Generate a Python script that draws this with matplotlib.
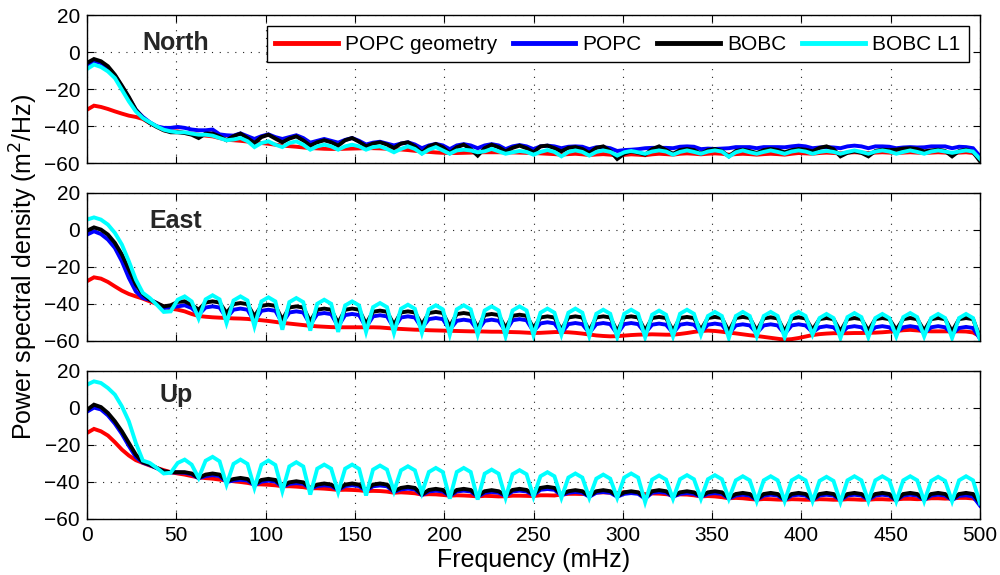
import numpy as np
import matplotlib
matplotlib.use("Agg")
import matplotlib.pyplot as plt

# frequency grid (mHz), 129 samples from 0 to 500
freq = np.linspace(0, 500, 129)

# PSD values (dB, m^2/Hz), 4 samples per row
north_popc_geom = [
    -31.2, -29.0, -29.7, -30.8, -32.1, -33.3, -34.4, -35.1,
    -36.2, -38.4, -40.2, -42.3, -42.9, -42.9, -43.8, -44.1,
    -44.7, -45.2, -45.6, -46.5, -47.4, -47.7, -48.0, -48.4,
    -48.8, -49.2, -49.6, -50.1, -50.6, -50.9, -51.2, -51.6,
    -51.9, -52.1, -52.3, -52.4, -52.4, -52.3, -52.2, -52.1,
    -51.9, -52.0, -52.1, -52.3, -52.4, -52.7, -53.0, -53.4,
    -53.7, -54.0, -54.3, -54.5, -54.6, -54.6, -54.5, -54.4,
    -54.2, -54.2, -54.2, -54.2, -54.2, -54.3, -54.4, -54.5,
    -54.6, -54.8, -55.0, -55.2, -55.5, -55.2, -55.0, -55.3,
    -55.7, -55.4, -55.2, -55.5, -56.0, -55.6, -55.3, -55.5,
    -55.8, -55.3, -55.0, -55.2, -55.5, -55.0, -54.8, -55.0,
    -55.3, -55.0, -54.8, -55.0, -55.5, -55.2, -55.0, -55.2,
    -55.5, -55.2, -55.0, -55.2, -55.5, -55.0, -54.6, -54.8,
    -55.0, -54.6, -54.4, -54.6, -54.8, -54.4, -54.2, -54.4,
    -54.6, -54.4, -54.2, -54.4, -54.6, -54.4, -54.2, -54.4,
    -54.6, -54.4, -54.2, -54.4, -54.6, -54.4, -54.2, -54.6,
    -57.8]
north_popc = [
    -6.8, -5.0, -5.9, -8.6, -12.8, -18.6, -24.9, -31.2,
    -35.1, -38.0, -40.2, -41.0, -41.0, -40.5, -41.0, -41.9,
    -42.3, -42.3, -41.9, -44.5, -45.0, -45.2, -44.0, -45.5,
    -47.0, -45.5, -44.5, -46.0, -47.0, -46.0, -45.0, -46.5,
    -49.0, -48.0, -47.0, -48.0, -49.0, -47.5, -46.5, -48.0,
    -50.0, -49.0, -48.5, -49.5, -50.5, -49.5, -48.8, -50.0,
    -52.0, -50.5, -49.7, -50.5, -52.5, -50.5, -49.8, -50.5,
    -52.0, -50.5, -49.8, -50.5, -52.5, -51.0, -50.3, -51.0,
    -52.5, -51.0, -50.6, -51.0, -52.0, -51.2, -51.0, -51.2,
    -52.5, -51.5, -51.4, -52.0, -53.5, -53.0, -52.8, -52.5,
    -52.0, -51.8, -51.8, -51.8, -52.0, -51.2, -51.0, -51.2,
    -52.5, -52.2, -52.4, -52.2, -52.0, -51.4, -51.4, -51.4,
    -52.0, -51.4, -51.4, -51.4, -51.5, -51.0, -50.6, -51.0,
    -52.0, -51.6, -51.4, -51.6, -52.0, -51.0, -50.6, -51.0,
    -52.0, -51.0, -51.0, -51.2, -52.0, -51.6, -51.4, -51.6,
    -51.5, -51.0, -51.0, -51.0, -52.0, -51.2, -51.4, -52.0,
    -56.4]
north_bobc = [
    -5.9, -3.8, -5.0, -7.7, -12.3, -18.2, -24.3, -31.2,
    -35.7, -38.4, -40.5, -42.3, -43.4, -43.4, -43.8, -44.7,
    -46.5, -44.1, -44.1, -45.6, -47.7, -45.5, -44.1, -46.5,
    -49.2, -46.0, -44.7, -46.8, -48.8, -46.8, -45.6, -47.8,
    -50.6, -48.8, -47.7, -48.8, -50.6, -47.7, -46.5, -48.5,
    -51.0, -49.5, -48.8, -50.0, -51.9, -49.5, -48.8, -51.0,
    -54.6, -51.0, -49.7, -51.5, -54.6, -51.5, -50.1, -52.5,
    -56.0, -52.0, -50.1, -51.5, -53.7, -51.8, -50.6, -52.0,
    -54.2, -51.0, -50.6, -52.0, -53.7, -51.8, -51.4, -52.4,
    -54.6, -51.8, -51.0, -53.5, -57.8, -55.0, -53.7, -54.5,
    -55.5, -52.5, -51.0, -53.0, -55.0, -53.0, -52.4, -53.0,
    -55.0, -53.0, -52.4, -53.5, -56.4, -53.5, -52.8, -53.5,
    -54.6, -53.0, -52.4, -53.0, -54.2, -53.0, -52.4, -52.8,
    -53.7, -51.8, -51.0, -52.5, -56.4, -54.5, -53.7, -54.5,
    -56.4, -53.5, -52.8, -53.0, -52.8, -52.2, -52.0, -52.5,
    -53.7, -53.2, -52.8, -53.5, -56.4, -53.5, -52.8, -54.0,
    -59.1]
north_bobc_l1 = [
    -9.2, -6.8, -8.1, -10.5, -14.1, -20.4, -26.7, -32.1,
    -35.7, -38.0, -40.2, -42.0, -42.9, -43.4, -43.4, -44.1,
    -44.7, -44.7, -45.2, -46.5, -47.7, -47.3, -46.5, -48.2,
    -51.4, -49.2, -48.3, -50.1, -51.4, -49.2, -48.3, -50.1,
    -52.8, -51.0, -50.1, -51.0, -52.8, -51.0, -50.1, -51.0,
    -52.8, -51.4, -51.0, -52.4, -54.2, -52.4, -51.0, -52.4,
    -55.0, -52.8, -51.4, -53.2, -55.0, -53.2, -52.8, -53.2,
    -54.2, -53.7, -52.4, -53.7, -55.0, -54.2, -53.5, -54.0,
    -55.5, -54.0, -53.0, -54.0, -56.4, -54.0, -53.2, -54.0,
    -56.0, -54.0, -53.2, -54.0, -56.0, -54.2, -53.5, -54.2,
    -55.0, -53.8, -53.2, -53.8, -55.5, -54.0, -53.2, -54.0,
    -55.0, -53.8, -53.2, -53.8, -56.6, -54.2, -53.2, -54.2,
    -55.0, -54.0, -53.2, -54.0, -55.0, -53.8, -53.2, -53.8,
    -55.0, -54.0, -53.5, -54.0, -55.0, -54.0, -53.2, -54.0,
    -55.0, -53.8, -53.2, -53.8, -55.0, -54.0, -53.2, -54.0,
    -55.0, -53.8, -53.2, -53.8, -54.5, -53.8, -53.2, -53.8,
    -57.8]

east_popc_geom = [
    -27.7, -25.6, -26.3, -28.1, -30.5, -32.8, -34.6, -35.9,
    -37.1, -38.6, -40.0, -41.3, -42.5, -43.1, -44.0, -45.4,
    -46.5, -46.9, -47.2, -47.4, -47.6, -47.8, -47.9, -48.1,
    -48.5, -48.8, -49.2, -49.7, -50.2, -50.6, -51.0, -51.4,
    -51.8, -52.1, -52.3, -52.5, -52.6, -52.6, -52.6, -52.6,
    -52.6, -52.6, -52.7, -53.0, -53.3, -53.5, -53.7, -53.9,
    -54.0, -54.2, -54.3, -54.4, -54.5, -54.6, -54.7, -54.8,
    -54.8, -54.9, -55.0, -55.0, -55.1, -55.2, -55.3, -55.5,
    -55.7, -55.6, -55.4, -55.2, -55.1, -55.3, -55.6, -56.0,
    -56.5, -57.0, -57.3, -57.5, -57.4, -57.1, -56.8, -56.6,
    -56.5, -56.4, -56.5, -56.6, -56.6, -56.2, -55.7, -55.1,
    -54.6, -54.4, -54.6, -55.0, -55.5, -55.9, -56.4, -56.9,
    -57.3, -57.8, -58.3, -58.8, -59.3, -59.0, -58.4, -57.6,
    -56.8, -56.3, -56.0, -55.8, -55.8, -55.8, -55.7, -55.7,
    -55.6, -55.5, -55.3, -55.0, -54.6, -54.2, -54.0, -54.3,
    -54.6, -54.8, -54.8, -54.8, -54.8, -54.8, -54.9, -55.4,
    -57.5]
east_popc = [
    -2.5, -0.7, -2.2, -5.2, -9.7, -16.9, -25.9, -33.2,
    -36.8, -37.7, -39.5, -42.2, -41.8, -41.3, -40.7, -42.2,
    -45.8, -41.9, -41.3, -41.9, -47.6, -43.1, -42.5, -43.1,
    -49.4, -43.7, -43.1, -43.7, -50.3, -44.6, -44.0, -44.6,
    -51.2, -45.5, -44.9, -45.5, -52.1, -46.0, -45.4, -46.0,
    -52.6, -46.7, -46.1, -46.7, -53.0, -47.3, -46.7, -47.3,
    -53.0, -48.2, -47.6, -48.2, -53.9, -49.1, -48.5, -49.1,
    -54.4, -49.1, -48.5, -49.1, -54.8, -48.8, -48.2, -48.8,
    -54.8, -50.5, -49.9, -50.5, -55.7, -50.9, -50.3, -50.9,
    -55.7, -50.9, -50.3, -50.9, -56.2, -50.9, -50.3, -50.9,
    -55.7, -51.2, -50.6, -51.2, -55.7, -51.2, -50.6, -51.2,
    -55.3, -51.2, -50.6, -51.2, -56.2, -51.6, -51.0, -51.6,
    -55.7, -51.6, -51.0, -51.6, -56.2, -51.6, -51.0, -51.6,
    -55.3, -52.6, -52.0, -52.6, -56.2, -52.6, -52.0, -52.6,
    -55.7, -52.6, -52.0, -52.6, -55.3, -52.6, -52.0, -52.6,
    -55.7, -52.6, -52.0, -52.6, -56.2, -53.0, -52.4, -53.0,
    -58.8]
east_bobc = [
    -0.4, 1.4, 0.2, -2.5, -7.0, -13.3, -21.4, -29.5,
    -34.6, -37.7, -39.5, -41.3, -40.7, -38.9, -38.6, -40.4,
    -43.1, -39.2, -38.6, -39.2, -44.9, -40.1, -39.5, -40.1,
    -46.7, -41.0, -40.4, -41.0, -48.5, -41.9, -41.3, -41.9,
    -49.4, -43.1, -42.5, -43.1, -50.3, -43.1, -42.5, -43.1,
    -50.8, -44.2, -43.6, -44.2, -51.2, -44.6, -44.0, -44.6,
    -51.2, -44.9, -44.3, -44.9, -52.1, -45.5, -44.9, -45.5,
    -53.0, -46.0, -45.4, -46.0, -53.0, -46.4, -45.8, -46.4,
    -53.0, -47.3, -46.7, -47.3, -53.9, -47.3, -46.7, -47.3,
    -54.4, -47.3, -46.7, -47.3, -54.8, -47.3, -46.7, -47.3,
    -54.4, -47.6, -47.0, -47.6, -54.4, -47.6, -47.0, -47.6,
    -53.9, -47.6, -47.0, -47.6, -54.8, -47.6, -47.0, -47.6,
    -54.4, -47.8, -47.2, -47.8, -54.8, -47.8, -47.2, -47.8,
    -53.9, -48.2, -47.6, -48.2, -54.8, -48.2, -47.6, -48.2,
    -54.4, -48.2, -47.6, -48.2, -53.9, -48.2, -47.6, -48.2,
    -54.4, -48.2, -47.6, -48.2, -54.8, -48.2, -47.6, -48.2,
    -58.0]
east_bobc_l1 = [
    5.6, 6.8, 5.6, 2.9, -1.6, -7.9, -16.9, -26.8,
    -34.0, -36.8, -40.4, -44.3, -44.0, -37.7, -35.9, -38.6,
    -47.9, -37.5, -35.3, -37.5, -50.3, -38.1, -35.9, -38.1,
    -52.1, -38.6, -36.4, -38.6, -53.9, -39.0, -36.8, -39.0,
    -54.4, -39.9, -37.7, -39.9, -55.1, -40.8, -38.6, -40.8,
    -55.1, -41.7, -39.5, -41.7, -55.7, -42.6, -40.4, -42.6,
    -55.7, -42.9, -40.7, -42.9, -56.6, -42.9, -40.7, -42.9,
    -56.6, -43.5, -41.3, -43.5, -57.5, -43.5, -41.3, -43.5,
    -56.9, -44.7, -42.5, -44.7, -56.6, -44.7, -42.5, -44.7,
    -57.5, -45.3, -43.1, -45.3, -58.0, -45.3, -43.1, -45.3,
    -58.0, -45.8, -43.6, -45.8, -57.5, -45.3, -43.1, -45.3,
    -56.6, -46.5, -44.3, -46.5, -58.4, -46.5, -44.3, -46.5,
    -57.5, -46.5, -44.3, -46.5, -58.0, -46.5, -44.3, -46.5,
    -56.6, -47.6, -45.4, -47.6, -58.4, -47.1, -44.9, -47.1,
    -58.0, -47.6, -45.4, -47.6, -57.5, -47.1, -44.9, -47.1,
    -57.5, -47.6, -45.4, -47.6, -58.4, -47.6, -45.4, -47.6,
    -59.3]

up_popc_geom = [
    -13.5, -11.3, -12.6, -14.9, -18.5, -22.5, -25.7, -28.2,
    -29.7, -31.1, -32.4, -33.6, -34.7, -35.4, -36.0, -36.8,
    -37.5, -37.9, -38.2, -38.7, -39.2, -39.6, -40.0, -40.5,
    -41.2, -41.3, -41.5, -41.8, -42.3, -42.3, -42.5, -42.8,
    -43.4, -43.4, -43.6, -43.9, -44.3, -44.2, -44.3, -44.5,
    -44.9, -44.8, -44.9, -45.2, -45.8, -45.6, -45.8, -46.1,
    -46.8, -46.6, -46.7, -47.0, -47.4, -47.2, -47.3, -47.5,
    -47.8, -47.5, -47.6, -47.8, -47.7, -47.4, -47.4, -47.5,
    -47.6, -47.2, -47.2, -47.3, -46.8, -46.4, -46.4, -46.5,
    -46.2, -45.7, -45.6, -45.8, -46.0, -45.5, -45.5, -45.8,
    -46.6, -46.2, -46.3, -46.6, -47.0, -46.7, -46.8, -47.2,
    -47.8, -47.6, -47.8, -48.2, -48.8, -48.6, -48.8, -49.2,
    -49.5, -49.2, -49.3, -49.5, -49.6, -49.3, -49.4, -49.6,
    -49.6, -49.3, -49.4, -49.6, -49.6, -49.3, -49.4, -49.6,
    -49.6, -49.3, -49.3, -49.5, -49.4, -49.1, -49.1, -49.3,
    -49.2, -48.8, -48.8, -49.0, -48.9, -48.6, -48.6, -48.9,
    -50.4]
up_popc = [
    -2.0, 0.2, -0.8, -4.0, -8.5, -14.0, -20.5, -26.5,
    -29.5, -30.8, -32.5, -34.3, -34.8, -34.8, -35.0, -35.8,
    -38.0, -36.8, -36.3, -36.8, -40.0, -39.2, -38.8, -39.2,
    -41.8, -39.8, -39.3, -39.8, -42.6, -41.0, -40.6, -41.0,
    -43.6, -42.2, -41.8, -42.2, -44.3, -42.2, -41.8, -42.2,
    -44.8, -42.3, -41.9, -42.3, -45.4, -44.0, -43.6, -44.0,
    -47.1, -45.1, -44.7, -45.1, -47.6, -45.1, -44.7, -45.1,
    -48.0, -45.8, -45.4, -45.8, -47.6, -45.1, -44.7, -45.1,
    -47.2, -44.2, -43.8, -44.2, -47.2, -45.8, -45.4, -45.8,
    -48.0, -45.8, -45.4, -45.8, -48.0, -46.4, -46.0, -46.4,
    -49.0, -45.8, -45.4, -45.8, -48.0, -46.4, -46.0, -46.4,
    -48.0, -46.4, -46.0, -46.4, -49.0, -47.3, -46.9, -47.3,
    -49.8, -47.3, -46.9, -47.3, -49.8, -47.3, -46.9, -47.3,
    -49.8, -47.3, -46.9, -47.3, -49.8, -47.3, -46.9, -47.3,
    -49.6, -47.3, -46.9, -47.3, -50.0, -47.3, -46.9, -47.3,
    -49.8, -47.3, -46.9, -47.3, -49.8, -47.5, -47.2, -47.8,
    -52.8]
up_bobc = [
    -1.0, 1.8, 0.5, -2.7, -7.2, -12.6, -18.9, -25.2,
    -29.3, -30.6, -32.4, -34.2, -34.7, -34.7, -34.7, -35.4,
    -37.8, -36.0, -35.4, -36.0, -39.6, -38.4, -37.8, -38.4,
    -41.4, -38.9, -38.3, -38.9, -42.3, -40.2, -39.6, -40.2,
    -43.2, -41.4, -40.8, -41.4, -44.0, -41.4, -40.8, -41.4,
    -44.4, -41.4, -40.8, -41.4, -45.0, -43.2, -42.6, -43.2,
    -46.8, -44.3, -43.7, -44.3, -47.3, -44.3, -43.7, -44.3,
    -47.7, -45.0, -44.4, -45.0, -47.3, -44.3, -43.7, -44.3,
    -46.8, -43.2, -42.6, -43.2, -46.8, -45.0, -44.4, -45.0,
    -47.7, -45.0, -44.4, -45.0, -47.7, -45.6, -45.0, -45.6,
    -48.6, -45.0, -44.4, -45.0, -47.7, -45.6, -45.0, -45.6,
    -47.7, -45.6, -45.0, -45.6, -48.6, -46.5, -45.9, -46.5,
    -49.5, -46.5, -45.9, -46.5, -49.5, -46.5, -45.9, -46.5,
    -49.5, -46.5, -45.9, -46.5, -49.5, -46.5, -45.9, -46.5,
    -49.1, -46.5, -45.9, -46.5, -49.9, -46.5, -45.9, -46.5,
    -49.5, -46.5, -45.9, -46.5, -49.5, -46.5, -45.9, -46.5,
    -51.3]
up_bobc_l1 = [
    12.6, 14.4, 13.5, 10.8, 7.2, 0.9, -7.2, -18.9,
    -28.4, -29.7, -32.4, -35.4, -35.0, -29.7, -27.9, -30.6,
    -37.8, -28.5, -26.4, -28.8, -41.4, -30.2, -27.9, -30.2,
    -43.2, -30.7, -28.4, -30.8, -45.0, -31.6, -29.3, -31.6,
    -46.8, -32.8, -30.6, -32.8, -45.5, -32.8, -30.6, -32.9,
    -47.3, -33.3, -31.1, -33.3, -45.0, -33.7, -31.5, -33.7,
    -45.9, -34.6, -32.4, -34.6, -49.0, -34.6, -32.4, -34.6,
    -49.5, -35.5, -33.3, -35.5, -48.6, -35.8, -33.6, -35.8,
    -48.0, -36.9, -34.7, -36.9, -48.6, -37.6, -35.4, -37.6,
    -48.6, -38.2, -36.0, -38.2, -48.6, -37.6, -35.4, -37.6,
    -50.9, -38.7, -36.5, -38.7, -49.1, -38.5, -36.3, -38.5,
    -49.1, -38.5, -36.3, -38.5, -49.1, -39.1, -36.9, -39.1,
    -50.4, -39.1, -36.9, -39.1, -50.4, -39.1, -36.9, -39.1,
    -50.4, -39.4, -37.2, -39.4, -50.9, -39.1, -36.9, -39.1,
    -50.4, -39.1, -36.9, -39.1, -50.4, -39.1, -36.9, -39.1,
    -50.4, -39.4, -37.2, -39.4, -50.4, -39.1, -36.9, -39.1,
    -51.6]

panel_names = ["North", "East", "Up"]
series_labels = ["POPC geometry", "POPC", "BOBC", "BOBC L1"]
series_colors = ["#ff0000", "#0000ff", "#000000", "#00ffff"]
panel_data = [
    [north_popc_geom, north_popc, north_bobc, north_bobc_l1],
    [east_popc_geom, east_popc, east_bobc, east_bobc_l1],
    [up_popc_geom, up_popc, up_bobc, up_bobc_l1],
]

plt.rcParams['font.family'] = ['Liberation Sans', 'DejaVu Sans']
fig = plt.figure(figsize=(10, 5.75), dpi=100)

bottoms = [0.7165, 0.4070, 0.0974]
axes = []
for i, (name, curves) in enumerate(zip(panel_names, panel_data)):
    ax = fig.add_axes([0.087, bottoms[i], 0.893, 0.2574])
    for vals, lab, col in zip(curves, series_labels, series_colors):
        ax.plot(freq, vals, color=col, lw=2.8, label=lab, solid_joinstyle='miter')
    ax.set_xlim(0, 500)
    ax.set_ylim(-60, 20)
    ax.set_xticks(np.arange(0, 501, 50))
    ax.set_yticks([-60, -40, -20, 0, 20])
    ax.grid(True, linestyle=(0, (1, 6)), color='#222222', linewidth=0.8)
    ax.tick_params(direction='in', top=True, right=True, length=5,
                   labelsize=15, width=0.8, pad=5)
    for s in ax.spines.values():
        s.set_linewidth(1.0)
    if i < 2:
        ax.tick_params(labelbottom=False)
    ax.text(0.0997, 0.81 if i < 2 else 0.84, name, transform=ax.transAxes,
            fontsize=18, fontweight='bold', ha='center', va='center',
            color='#262626')
    axes.append(ax)

leg = axes[0].legend(loc='upper right', ncol=4, fontsize=15,
                     handlelength=3.0, columnspacing=0.75, handletextpad=0.35,
                     borderpad=0.4, borderaxespad=0.55, fancybox=False,
                     framealpha=1.0, edgecolor='black')
leg.get_frame().set_linewidth(1.0)
for line in leg.get_lines():
    line.set_linewidth(3.5)

axes[2].set_xlabel("Frequency (mHz)", fontsize=18, labelpad=2)
fig.text(0.024, 0.535, "Power spectral density (m$^2$/Hz)", rotation=90,
         fontsize=18, ha='center', va='center')

fig.savefig("out.png", dpi=100)
